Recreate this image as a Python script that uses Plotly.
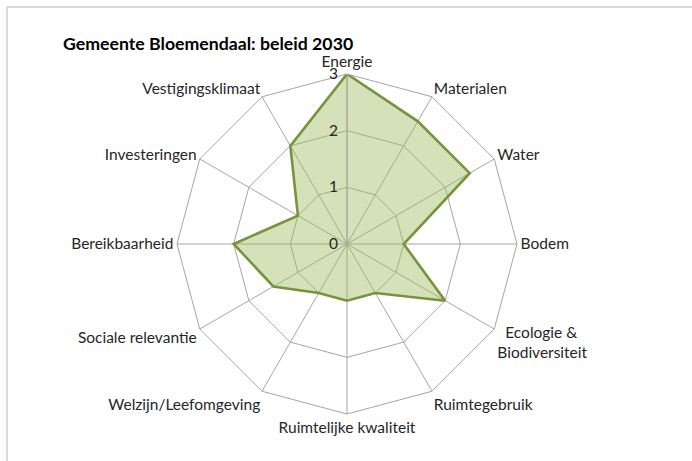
import plotly.graph_objects as go

categories = ["Energie", "Materialen", "Water", "Bodem",
              "\u00a0\u00a0Ecologie &<br>Biodiversiteit",
              "Ruimtegebruik", "Ruimtelijke kwaliteit", "Welzijn/Leefomgeving",
              "Sociale relevantie", "Bereikbaarheid", "Investeringen", "Vestigingsklimaat"]
values = [3, 2.5, 2.5, 1, 2, 1, 1, 1, 1.5, 2, 1, 2]
tick_vals = [0, 1, 2, 3]
tick_text = ["0", "1", "2", "3"]
title_text = "Gemeente Bloemendaal: beleid 2030"

W, H = 692, 461
cx, cy, R = 347, 244, 170

fig = go.Figure()
fig.add_trace(go.Scatterpolar(
    r=values + values[:1],
    theta=categories + categories[:1],
    mode="lines",
    fill="toself",
    fillcolor="rgba(155,187,89,0.42)",
    line=dict(color="#77933c", width=2.6),
    hoverinfo="skip",
    showlegend=False,
))

fig.update_layout(
    width=W, height=H,
    margin=dict(l=0, r=0, t=0, b=0),
    paper_bgcolor="white",
    font=dict(family="Lato, 'Open Sans', sans-serif", color="#262626", size=15),
    polar=dict(
        domain=dict(x=[(cx - R) / W, (cx + R) / W], y=[(H - cy - R) / H, (H - cy + R) / H]),
        gridshape="linear",
        bgcolor="white",
        angularaxis=dict(
            direction="clockwise", rotation=90,
            showgrid=True, gridcolor="#a6a6a6", gridwidth=1,
            linecolor="#a6a6a6", linewidth=1, showline=True,
            ticks="", tickfont=dict(size=15.5, color="#262626"),
        ),
        radialaxis=dict(
            range=[0, 3], tickvals=tick_vals, ticktext=tick_text,
            angle=90, side="counterclockwise", tickangle=90,
            showline=True, linecolor="#a6a6a6", linewidth=1,
            gridcolor="#a6a6a6", gridwidth=1,
            ticks="outside", ticklen=3, tickcolor="rgba(0,0,0,0)",
            tickfont=dict(size=15.5, color="#262626"),
        ),
    ),
    shapes=[dict(type="rect", xref="paper", yref="paper",
                 x0=7 / W, x1=1.02, y0=-0.02, y1=1 - 7 / H,
                 line=dict(color="#b4b4b4", width=1), layer="below")],
    annotations=[dict(text="<b>" + title_text + "</b>", xref="paper", yref="paper",
                      x=61 / W, y=1 - 31 / H, xanchor="left", yanchor="top",
                      showarrow=False, font=dict(size=17.7, color="#000000"))],
)

fig.write_html("out.html", config={"displayModeBar": False},
               post_script="document.body.style.margin='0';")
